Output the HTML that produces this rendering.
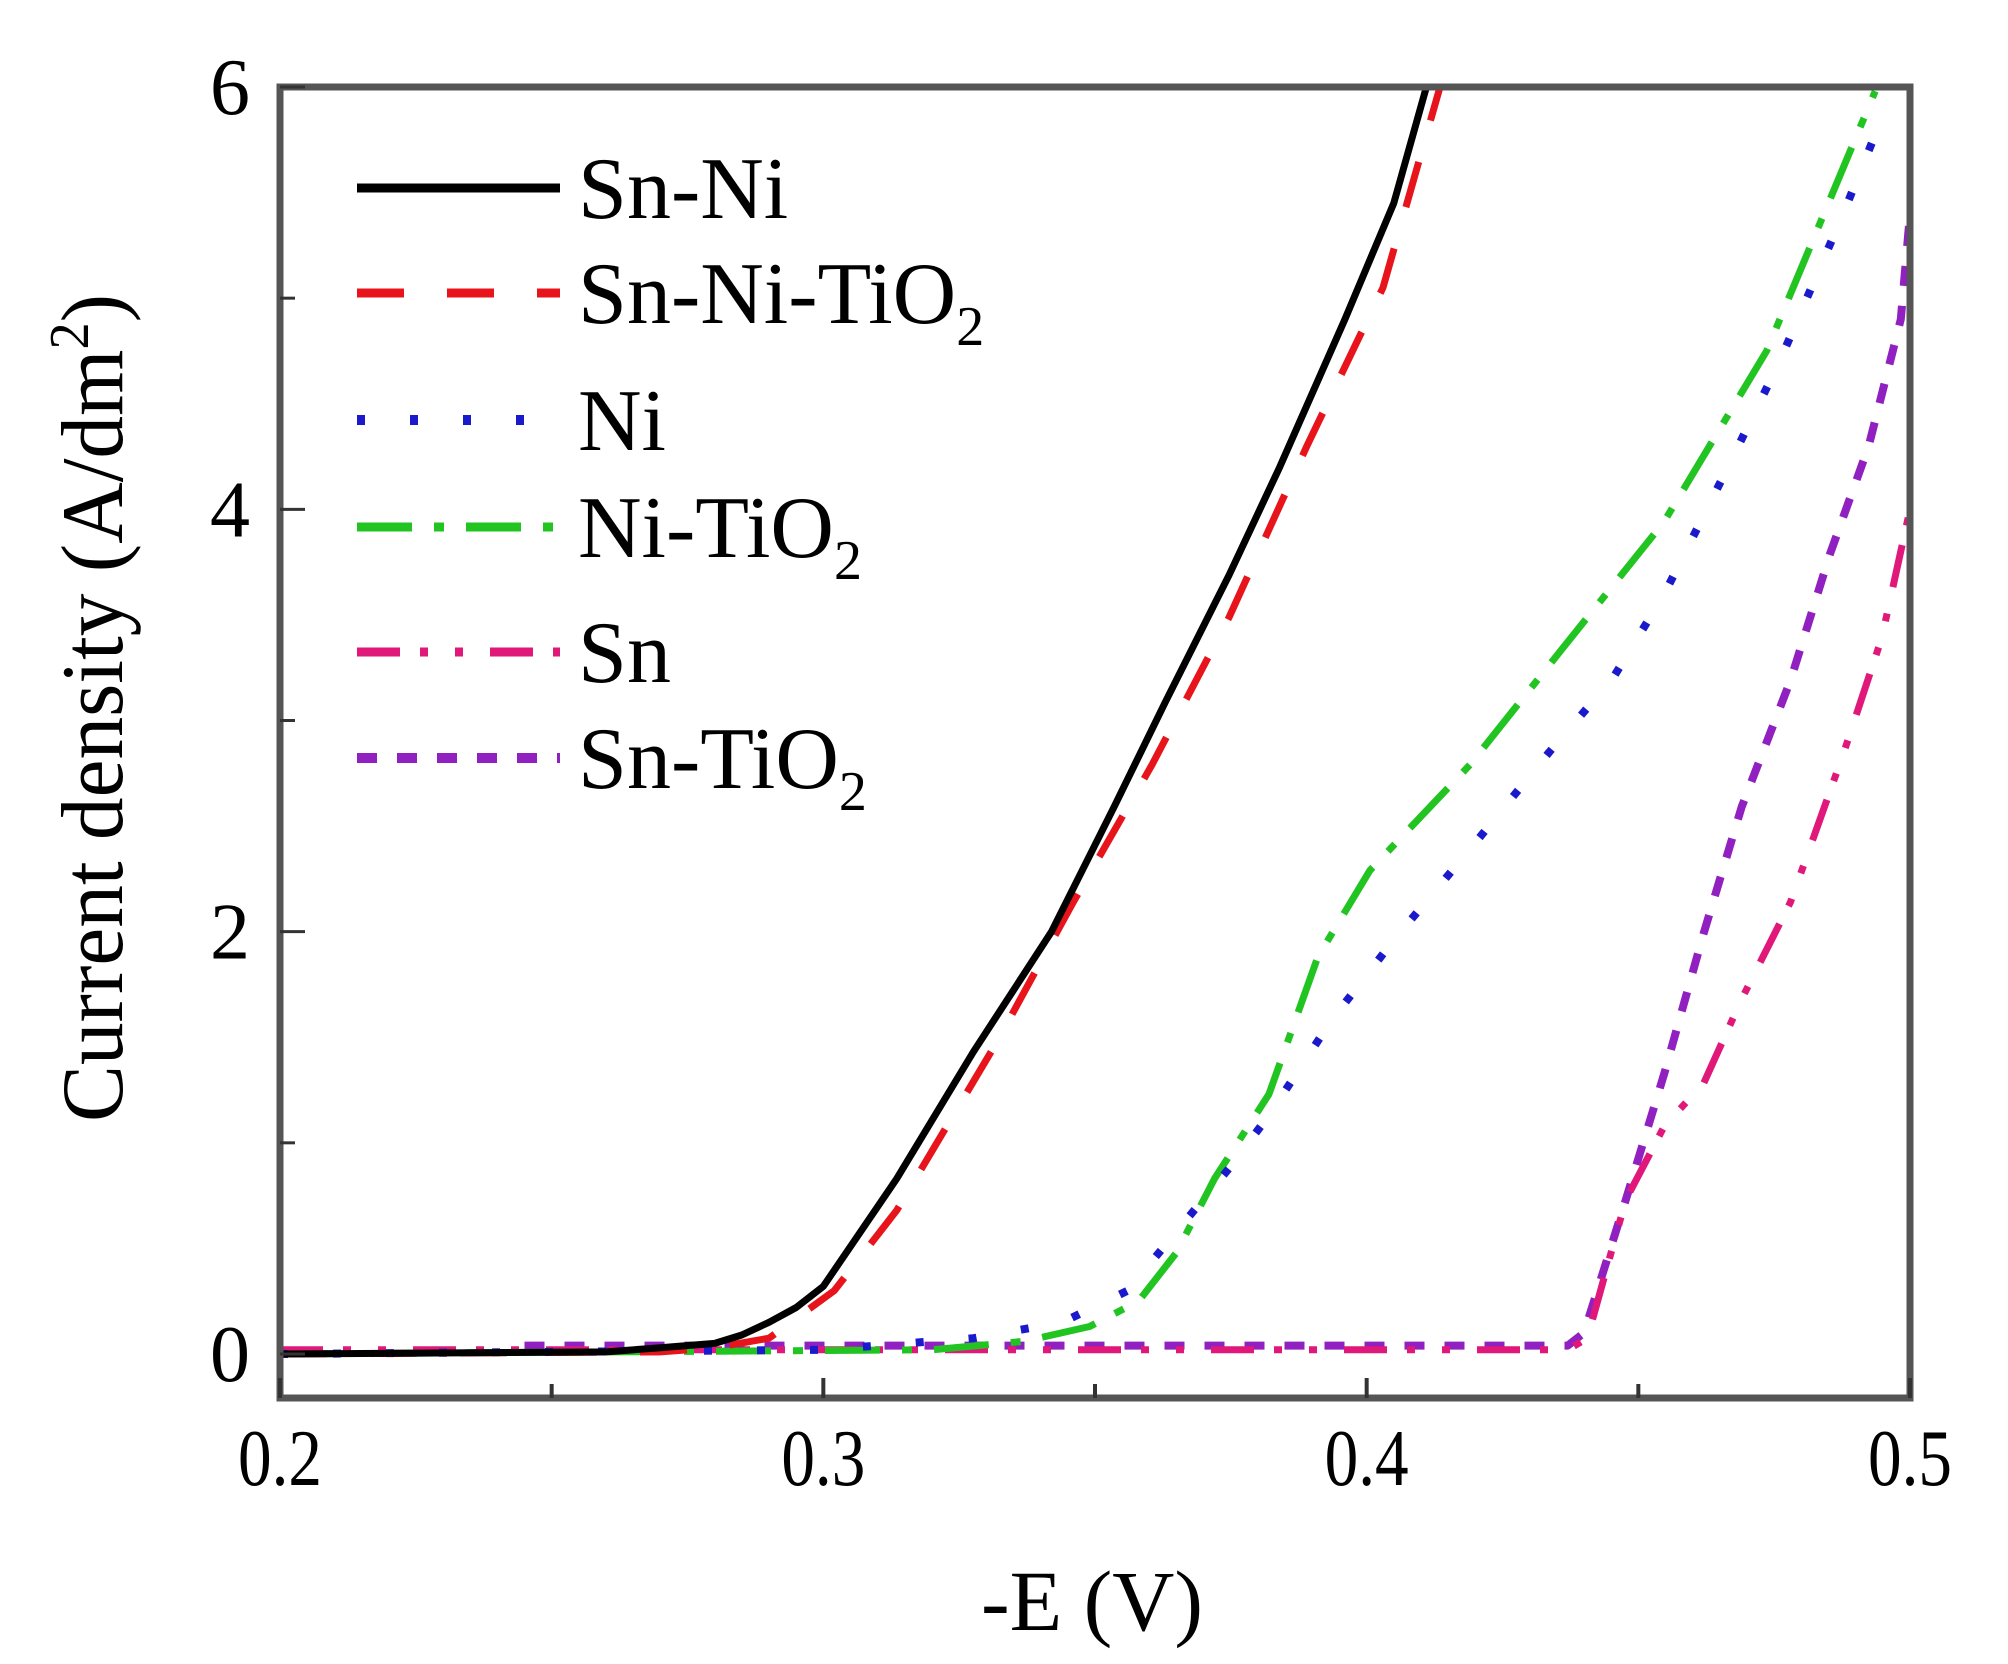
<!DOCTYPE html>
<html><head><meta charset="utf-8"><style>
html,body{margin:0;padding:0;background:#fff;}
svg{display:block;}
svg text{font-family:"Liberation Serif","Times New Roman",serif;}
</style></head><body>
<svg id="chart" xmlns="http://www.w3.org/2000/svg" width="2008" height="1664" viewBox="0 0 2008 1664" font-family="Liberation Serif, serif">
<rect x="0" y="0" width="2008" height="1664" fill="#fff"/>
<g id="series"></g>
<g id="axes"></g>
<text x="1092" y="1630" font-size="86" text-anchor="middle" font-family="Liberation Serif, serif">-E (V)</text>
<text transform="translate(122,708) rotate(-90)" font-size="88" text-anchor="middle" textLength="828" lengthAdjust="spacingAndGlyphs" font-family="Liberation Serif, serif">Current density (A/dm<tspan font-size="56" dy="-34">2</tspan><tspan dy="34">)</tspan></text>
<g id="legend"></g>
</svg>
<script>
const xTicks=[0.2,0.3,0.4,0.5];
const xTickLabels=["0.2","0.3","0.4","0.5"];
const xMinor=[0.25,0.35,0.45];
const yTicks=[0,2,4,6];
const yTickLabels=["0","2","4","6"];
const yMinor=[1,3,5];
const seriesNames=["Sn-Ni","Sn-Ni-TiO2","Ni","Ni-TiO2","Sn","Sn-TiO2"];
const snNiX=[0.2,0.26,0.27,0.28,0.285,0.29,0.295,0.3,0.3135,0.3276,0.342,0.3535,0.363,0.3747,0.384,0.396,0.405,0.411];
const snNiY=[0,0.01,0.03,0.05,0.09,0.15,0.22,0.32,0.83,1.43,2.0,2.59,3.09,3.69,4.2,4.9,5.45,6];
const snNiTiX=[0.2,0.27,0.28,0.29,0.302,0.3135,0.332,0.346,0.3605,0.3747,0.389,0.403,0.4135];
const snNiTiY=[0,0.01,0.03,0.075,0.3,0.68,1.48,2.14,2.79,3.49,4.3,5.05,6];
const niX=[0.2,0.3,0.3276,0.344,0.356,0.365,0.3747,0.382,0.3935,0.405,0.419,0.4336,0.4453,0.4548,0.4665,0.476,0.4877,0.494];
const niY=[0,0.02,0.075,0.15,0.3,0.58,0.88,1.13,1.58,1.96,2.39,2.85,3.2,3.6,4.2,4.7,5.4,5.8];
const niTiX=[0.2,0.32,0.337,0.349,0.358,0.365,0.372,0.382,0.391,0.4006,0.419,0.436,0.4547,0.4736,0.4936];
const niTiY=[0,0.02,0.06,0.13,0.25,0.48,0.83,1.23,1.88,2.29,2.79,3.34,3.94,4.75,5.98];
const snX=[0.2,0.3,0.437,0.4406,0.4477,0.4548,0.462,0.469,0.478,0.4877,0.4948,0.5];
const snY=[0.02,0.02,0.02,0.075,0.73,1.08,1.28,1.68,2.14,2.84,3.39,4.0];
const snTiX=[0.245,0.3,0.4,0.437,0.44,0.4477,0.4548,0.462,0.469,0.478,0.4853,0.4924,0.4983,0.5];
const snTiY=[0.04,0.04,0.04,0.04,0.1,0.73,1.33,1.99,2.59,3.19,3.79,4.3,4.9,5.4];

const L=280,R=1910,T=87,B=1398,Y0=1354;
const xS=v=>L+(v-0.2)/0.3*(R-L);
const yS=v=>Y0-v*(Y0-T)/6;
const NS="http://www.w3.org/2000/svg";
const FF="Liberation Serif, serif";
function mk(tag,attrs,parent){const e=document.createElementNS(NS,tag);for(const k in attrs)e.setAttribute(k,attrs[k]);parent.appendChild(e);return e;}

const styles=[
 {c:"#000000",d:"",w:7},
 {c:"#e8141b",d:"47 43",w:7},
 {c:"#1a1acc",d:"8 45",w:8},
 {c:"#22c422",d:"55 22 10 22",w:7},
 {c:"#e0187a",d:"43 20 8 27 8 27",w:7},
 {c:"#9020c0",d:"20 20",w:8}
];
const xs=[snNiX,snNiTiX,niX,niTiX,snX,snTiX];
const ys=[snNiY,snNiTiY,niY,niTiY,snY,snTiY];
const sg=document.getElementById('series');
const ids=["sn-ni","sn-ni-tio2","ni","ni-tio2","sn","sn-tio2"];
for(let i=5;i>=0;i--){
  let d="";
  for(let j=0;j<xs[i].length;j++){d+=(j?"L":"M")+xS(xs[i][j]).toFixed(1)+","+yS(ys[i][j]).toFixed(1);}
  const p=mk('path',{d:d,fill:"none",stroke:styles[i].c,"stroke-width":styles[i].w,"stroke-dasharray":styles[i].d,"stroke-linejoin":"round"},sg);
  
  
}

const ax=document.getElementById('axes');
const frame=mk('rect',{x:L,y:T,width:R-L,height:B-T,fill:"none",stroke:"#555","stroke-width":7},ax);


xTicks.forEach((v,i)=>{
  const t=mk('line',{x1:xS(v),x2:xS(v),y1:B,y2:B-20,stroke:"#333","stroke-width":4},ax);
  
  
  const lb=mk('text',{x:xS(v),y:1485,"font-size":80,"text-anchor":"middle",textLength:84,lengthAdjust:"spacingAndGlyphs","font-family":FF},ax);
  lb.textContent=xTickLabels[i];
  
  
});
xMinor.forEach(v=>{
  const t=mk('line',{x1:xS(v),x2:xS(v),y1:B,y2:B-14,stroke:"#333","stroke-width":4},ax);
  
  
});
yTicks.forEach((v,i)=>{
  const t=mk('line',{x1:L,x2:L+25,y1:yS(v),y2:yS(v),stroke:"#333","stroke-width":3},ax);
  
  
  const lb=mk('text',{x:250,y:yS(v)+27,"font-size":80,"text-anchor":"end","font-family":FF},ax);
  lb.textContent=yTickLabels[i];
  
  
});
yMinor.forEach(v=>{
  const t=mk('line',{x1:L,x2:L+15,y1:yS(v),y2:yS(v),stroke:"#333","stroke-width":3},ax);
  
  
});

const lg=document.getElementById('legend');
const rowsY=[188,293,420,527,652,758];
seriesNames.forEach((n,i)=>{
  const ln=mk('line',{x1:357,x2:560,y1:rowsY[i],y2:rowsY[i],stroke:styles[i].c,"stroke-width":styles[i].w+2,"stroke-dasharray":styles[i].d},lg);
  
  
  const tx=mk('text',{x:578,y:rowsY[i]+30,"font-size":88,"font-family":FF},lg);
  
  
  if(n.endsWith("TiO2")){
    tx.appendChild(document.createTextNode(n.slice(0,-1)));
    const s=mk('tspan',{"font-size":56,dy:22},tx);
    s.textContent="2";
  } else tx.textContent=n;
});
</script>
</body></html>
